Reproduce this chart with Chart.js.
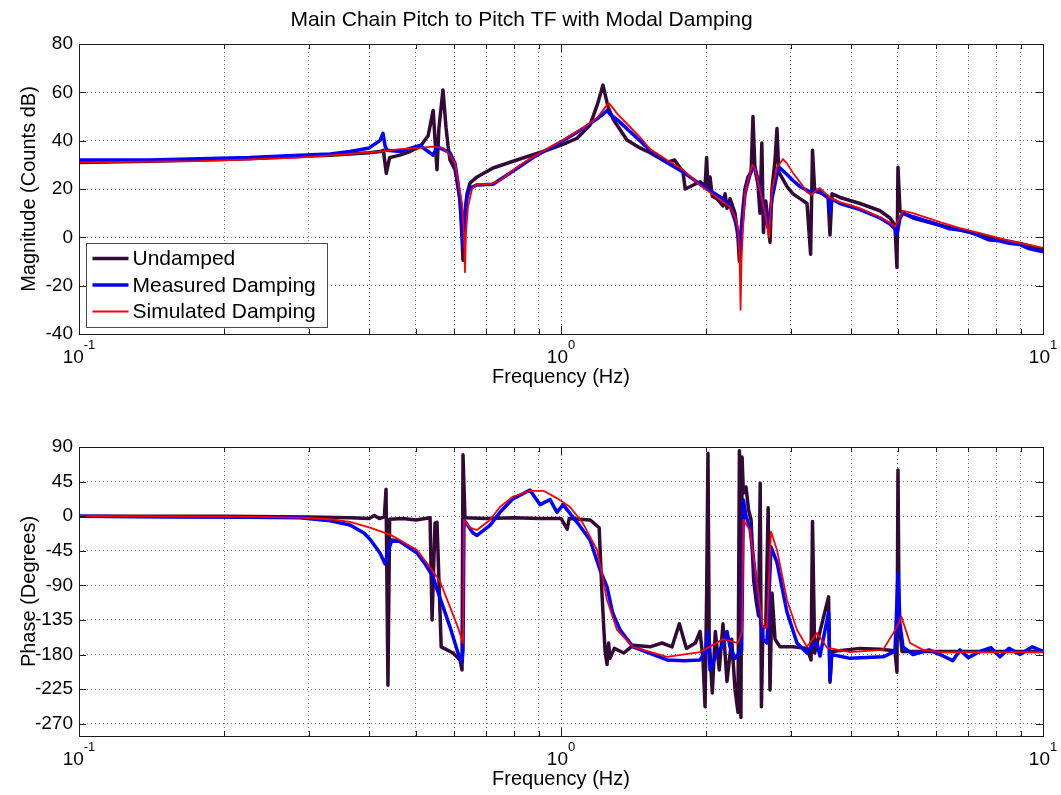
<!DOCTYPE html>
<html>
<head>
<meta charset="utf-8">
<script src="https://cdn.jsdelivr.net/npm/chart.js@4.4.1/dist/chart.umd.min.js"></script>
<style>
  html, body { margin: 0; padding: 0; background: #fff; }
  #wrap { position: relative; width: 1061px; height: 795px; }
  #mag { position: absolute; left: 0; top: 0; }
  #phase { position: absolute; left: 0; top: 398px; }
</style>
</head>
<body>
<div id="wrap">
  <canvas id="mag" width="1061" height="398"></canvas>
  <canvas id="phase" width="1061" height="397"></canvas>
</div>
<script>
// series names, in legend order
const seriesLabels = ['Undamped', 'Measured Damping', 'Simulated Damping'];

// axis ticks
const freqTicks = [0.1, 0.2, 0.3, 0.4, 0.5, 0.6, 0.7, 0.8, 0.9, 1, 2, 3, 4, 5, 6, 7, 8, 9, 10];
const decadeTicks = [0.1, 1, 10];
const decadeExponents = ['-1', '0', '1'];
const magTicks = [-40, -20, 0, 20, 40, 60, 80];
const phaseTicks = [-270, -225, -180, -135, -90, -45, 0, 45, 90];

// magnitude, [Hz, dB]
const magUndamped = [[0.1,31],[0.14,31.5],[0.178,32],[0.226,32.5],[0.287,33.5],[0.332,34],[0.365,34.5],[0.40,35],[0.421,35.5],[0.428,36],[0.434,26.5],[0.441,33],[0.463,34],[0.486,35.5],[0.51,37.5],[0.53,42],[0.543,52.5],[0.548,40],[0.553,28],[0.558,45],[0.569,61],[0.5773,45.5],[0.5829,38],[0.5884,32],[0.6027,28],[0.6172,15.5],[0.6232,0],[0.6262,-9.5],[0.6292,7],[0.6383,18],[0.6475,22.5],[0.6695,25],[0.7227,28.7],[0.81,32],[0.949,36.5],[1.01,38.5],[1.08,41],[1.149,46.5],[1.19,55],[1.222,63],[1.252,54],[1.282,49],[1.37,40.3],[1.458,37],[1.53,35],[1.659,31],[1.72,32],[1.791,27],[1.81,20],[1.943,23],[1.99,21],[2.005,33],[2.018,20],[2.038,25],[2.06,17],[2.107,16],[2.168,13],[2.19,18],[2.21,12],[2.242,16],[2.296,10],[2.329,0],[2.345,-10],[2.362,2],[2.385,12],[2.408,20],[2.443,25],[2.48,27],[2.502,50],[2.526,28],[2.562,22],[2.587,10],[2.61,39],[2.63,2],[2.66,15],[2.714,-2],[2.74,20],[2.78,32],[2.806,45],[2.83,27],[2.888,24],[2.944,21],[3.029,18],[3.133,16],[3.239,14],[3.295,-7],[3.325,36],[3.36,19],[3.446,18.5],[3.58,17],[3.615,1],[3.65,18],[3.792,16.5],[4.172,14],[4.589,11],[4.814,8],[4.93,5],[4.978,-12.5],[5.002,29],[5.05,11],[5.123,10],[5.374,8],[6.112,5],[6.726,3],[7.401,1],[8.143,-1],[8.96,-2.5],[10,-5]];
const magMeasured = [[0.1,32],[0.14,32],[0.178,32.5],[0.226,33],[0.287,34],[0.332,34.5],[0.365,35.5],[0.40,37],[0.421,40],[0.4273,43],[0.4314,38],[0.4355,36],[0.4634,35.5],[0.51,38],[0.5426,34],[0.5531,37.5],[0.5884,35],[0.6027,30.7],[0.6114,22.5],[0.6172,15.5],[0.6232,4.3],[0.6262,-4],[0.6321,8],[0.6383,16.7],[0.6475,20.4],[0.6695,21.7],[0.7227,22],[0.81,28.5],[0.875,33],[0.949,37],[1.01,40],[1.111,45],[1.188,49],[1.222,51],[1.246,52.5],[1.264,51],[1.31,48.5],[1.37,45],[1.458,40],[1.53,36],[1.659,31],[1.791,27],[1.943,22],[2.107,17.5],[2.168,16],[2.242,13],[2.296,7],[2.329,2],[2.352,-5],[2.375,5],[2.408,18],[2.466,26],[2.502,29.5],[2.526,29],[2.587,20],[2.65,10],[2.69,4],[2.74,16],[2.806,26],[2.847,28.7],[2.944,26],[3.029,23.5],[3.133,21],[3.302,18.5],[3.397,19.5],[3.446,19],[3.59,16],[3.615,10],[3.64,16],[3.792,14],[4.172,11.5],[4.589,8],[4.814,5.5],[4.93,3.5],[4.978,1],[5.05,8],[5.123,10],[5.374,8.5],[6.112,5],[6.4,3.5],[6.726,3],[7.0,2.5],[7.401,0.5],[7.7,-1],[8.143,-1.5],[8.5,-2.5],[8.96,-3],[9.3,-4.5],[10,-6]];
const magSimulated = [[0.1,31],[0.178,31.5],[0.287,33],[0.365,34.5],[0.42,35.5],[0.4634,36.5],[0.51,37],[0.5426,37.5],[0.5691,37],[0.5884,34],[0.6027,30.7],[0.6114,23.7],[0.6232,14],[0.6292,1.8],[0.6321,-14.4],[0.6352,2],[0.6413,12.6],[0.6537,20],[0.6695,22],[0.7124,22],[0.7471,23.5],[0.81,29],[0.875,33.3],[0.949,37.4],[1.01,40.3],[1.111,45.2],[1.188,49.4],[1.246,54.8],[1.258,55.5],[1.276,54],[1.31,51],[1.37,47],[1.458,41.5],[1.53,36.5],[1.659,32],[1.791,28],[1.943,21.5],[2.107,16.5],[2.168,14.6],[2.242,12.6],[2.296,8.4],[2.329,4],[2.348,-10],[2.358,-30],[2.368,-10],[2.385,3],[2.408,18],[2.466,26.6],[2.495,30],[2.526,28.5],[2.587,19.6],[2.65,10],[2.701,0],[2.74,19.6],[2.806,29],[2.888,32.4],[2.944,30.6],[3.029,26.6],[3.133,22.8],[3.239,18.7],[3.302,17.5],[3.397,19.6],[3.446,20.4],[3.615,16.3],[3.792,14.6],[4.172,12],[4.589,8.4],[4.814,6],[4.93,4.3],[5.05,8.4],[5.123,11],[5.374,10],[6.112,6.3],[6.726,3.8],[7.401,1.7],[8.143,-0.4],[8.96,-2.4],[10,-4.4]];

// phase, [Hz, degrees]
const phaseUndamped = [[0.1,0],[0.2,0],[0.3,-1],[0.365,-2],[0.40,-3],[0.41,1],[0.42,-3],[0.43,-1],[0.4335,35],[0.4375,-220],[0.441,-4],[0.47,-3],[0.50,-5],[0.535,-2],[0.5401,-135],[0.5478,-9],[0.553,-8],[0.5642,-170],[0.5969,-178],[0.6172,-187],[0.6232,-200],[0.6262,80],[0.6321,-2],[0.70,-3],[0.80,-2],[0.90,-3],[1.0,-3],[1.03,-17],[1.04,-3],[1.15,-5],[1.2,-15],[1.216,-100],[1.234,-175],[1.246,-193],[1.255,-165],[1.264,-185],[1.29,-172],[1.35,-178],[1.41,-168],[1.53,-170],[1.62,-165],[1.70,-170],[1.76,-140],[1.82,-172],[1.9,-165],[1.943,-150],[1.97,-185],[1.99,-248],[2.005,-105],[2.018,82],[2.03,-160],[2.06,-230],[2.09,-150],[2.13,-200],[2.168,-140],[2.21,-215],[2.26,-160],[2.296,-225],[2.329,-255],[2.345,85],[2.362,-262],[2.375,77],[2.39,30],[2.42,38],[2.45,8],[2.48,-5],[2.51,-83],[2.54,-110],[2.57,-130],[2.59,43],[2.605,-248],[2.624,-144],[2.66,-144],[2.69,11],[2.714,-226],[2.74,-100],[2.78,-160],[2.847,-170],[3.029,-170],[3.239,-172],[3.302,-187],[3.325,-7],[3.36,-178],[3.59,-105],[3.615,-216],[3.65,-176],[4.172,-172],[4.589,-173],[4.93,-175],[4.978,-203],[5.002,60],[5.03,-140],[5.1,-176],[6.112,-176],[10,-176]];
const phaseMeasured = [[0.1,0],[0.15,-1],[0.226,-1.5],[0.287,-2],[0.332,-6],[0.365,-11.5],[0.39,-22],[0.4015,-30],[0.4212,-48],[0.4314,-62],[0.4419,-38],[0.4461,-31],[0.4634,-33],[0.5027,-48],[0.5224,-62],[0.5426,-79],[0.5531,-95],[0.5884,-144],[0.6114,-178],[0.6232,-190],[0.6262,-175],[0.6292,-5],[0.6568,-22],[0.6695,-25],[0.712,-12],[0.747,5],[0.793,22],[0.862,34],[0.905,15],[0.949,21.5],[0.981,5],[1.01,15],[1.08,-8],[1.149,-31],[1.205,-70],[1.246,-92],[1.28,-126],[1.326,-148],[1.41,-170],[1.66,-187],[1.8,-188],[1.943,-187],[2.0,-175],[2.018,-150],[2.038,-200],[2.107,-178],[2.168,-168],[2.21,-150],[2.242,-170],[2.296,-185],[2.329,-180],[2.37,-175],[2.39,21],[2.42,0],[2.466,-15],[2.55,-95],[2.624,-160],[2.675,-165],[2.727,-40],[2.806,-60],[2.944,-125],[3.088,-165],[3.239,-178],[3.302,-170],[3.397,-165],[3.446,-182],[3.59,-125],[3.615,-213],[3.64,-180],[3.978,-185],[4.656,-183],[4.93,-176],[4.978,-110],[5.002,-74],[5.05,-140],[5.123,-170],[5.374,-180],[5.8,-174],[6.112,-180],[6.5,-188],[6.726,-174],[7.0,-184],[7.401,-176],[7.8,-171],[8.143,-183],[8.5,-172],[8.96,-180],[9.5,-170],[10,-176]];
const phaseSimulated = [[0.1,0],[0.226,-0.5],[0.287,-2],[0.332,-4],[0.365,-7.5],[0.4015,-15],[0.4419,-24],[0.5027,-44],[0.5401,-70],[0.561,-85],[0.5884,-118],[0.6114,-145],[0.6262,-165],[0.6292,-5],[0.6475,-15],[0.6695,-18],[0.712,-5],[0.747,12],[0.793,25],[0.862,33],[0.92,33],[0.98,23.5],[1.044,12],[1.11,-9],[1.188,-44],[1.246,-109],[1.307,-148],[1.41,-170],[1.66,-183],[1.943,-177],[2.168,-160],[2.329,-165],[2.375,-150],[2.39,-5],[2.466,-18],[2.55,-87],[2.624,-144],[2.675,-145],[2.727,-20],[2.806,-44],[2.944,-109],[3.088,-148],[3.239,-170],[3.397,-152],[3.563,-171],[3.978,-177],[4.656,-174],[4.978,-144],[5.085,-131],[5.299,-165],[5.636,-174],[6.112,-177],[10,-177]];

const FONT = "'Liberation Sans', Arial, Helvetica, sans-serif";
Chart.defaults.font.family = FONT;
Chart.defaults.color = '#000';

const styles = [
  { borderColor: '#330a36', borderWidth: 3.5, order: 3 },
  { borderColor: '#0000ff', borderWidth: 3.5, order: 2 },
  { borderColor: '#ff0000', borderWidth: 1.8, order: 1 }
];

function toPoints(pairs) {
  return pairs.map(p => ({ x: p[0], y: p[1] }));
}

function datasets(seriesList) {
  return seriesList.map((s, i) => Object.assign({
    label: seriesLabels[i],
    data: toPoints(s),
    pointRadius: 0,
    tension: 0,
    fill: false,
    borderJoinStyle: 'round'
  }, styles[i]));
}

// MATLAB style box, inward ticks, 10^n labels and the boxed legend
const matlabFrame = {
  id: 'matlabFrame',
  afterDraw(chart, args, opts) {
    const { ctx, chartArea: a, scales: { x, y } } = chart;
    ctx.save();
    ctx.strokeStyle = '#1a1a1a';
    ctx.lineWidth = 1;
    ctx.beginPath();
    x.ticks.forEach(t => {
      const px = Math.round(x.getPixelForValue(t.value)) + 0.5;
      const len = decadeTicks.includes(t.value) ? 8 : 5;
      ctx.moveTo(px, a.bottom); ctx.lineTo(px, a.bottom - len);
      ctx.moveTo(px, a.top); ctx.lineTo(px, a.top + len);
    });
    y.ticks.forEach(t => {
      const py = Math.round(y.getPixelForValue(t.value)) + 0.5;
      ctx.moveTo(a.left, py); ctx.lineTo(a.left + 7, py);
      ctx.moveTo(a.right, py); ctx.lineTo(a.right - 7, py);
    });
    ctx.stroke();
    ctx.strokeRect(Math.round(a.left) + 0.5, Math.round(a.top) + 0.5,
      Math.round(a.right - a.left), Math.round(a.bottom - a.top));

    ctx.fillStyle = '#000';
    ctx.textAlign = 'left';
    ctx.textBaseline = 'alphabetic';
    decadeTicks.forEach((v, i) => {
      const px = x.getPixelForValue(v);
      ctx.font = '19px ' + FONT;
      const wb = ctx.measureText('10').width;
      ctx.font = '13px ' + FONT;
      const we = ctx.measureText(decadeExponents[i]).width;
      const x0 = px - (wb + we) / 2;
      ctx.font = '19px ' + FONT;
      ctx.fillText('10', x0, a.bottom + 29);
      ctx.font = '13px ' + FONT;
      ctx.fillText(decadeExponents[i], x0 + wb, a.bottom + 15);
    });

    if (opts && opts.legend) {
      const lx = Math.round(a.left) + 7.5, ly = Math.round(a.bottom) - 90.5;
      ctx.fillStyle = '#fff';
      ctx.fillRect(lx, ly, 241, 84);
      ctx.strokeStyle = '#4a4a4a';
      ctx.lineWidth = 1;
      ctx.strokeRect(lx, ly, 241, 84);
      chart.data.datasets.forEach((ds, i) => {
        const ry = ly + 15 + i * 26.5;
        ctx.strokeStyle = ds.borderColor;
        ctx.lineWidth = ds.borderWidth;
        ctx.beginPath();
        ctx.moveTo(lx + 6, ry); ctx.lineTo(lx + 42, ry);
        ctx.stroke();
        ctx.fillStyle = '#000';
        ctx.font = '21px ' + FONT;
        ctx.textBaseline = 'middle';
        ctx.fillText(ds.label, lx + 46, ry + 1);
      });
    }
    ctx.restore();
  }
};

function makeOptions(cfg) {
  return {
    responsive: false,
    animation: false,
    layout: { padding: { top: cfg.padTop, right: 18, left: 0, bottom: 0 } },
    plugins: {
      legend: { display: false },
      tooltip: { enabled: false },
      title: cfg.title ? {
        display: true, text: cfg.title, color: '#000',
        font: { size: 21, weight: 'normal' },
        padding: { top: 8, bottom: 10.8 }
      } : { display: false },
      matlabFrame: { legend: cfg.legend }
    },
    scales: {
      x: {
        type: 'logarithmic', min: 0.1, max: 10,
        afterBuildTicks: s => { s.ticks = freqTicks.map(v => ({ value: v })); },
        afterFit: s => { s.height = cfg.xHeight; },
        ticks: { display: false },
        grid: { color: 'rgba(0,0,0,0.5)', lineWidth: 1, drawTicks: false },
        border: { display: false, dash: [1, 3] },
        title: { display: true, text: 'Frequency (Hz)', color: '#000', font: { size: 20 }, padding: { top: 0, bottom: cfg.xTitlePad } }
      },
      y: {
        min: cfg.yMin, max: cfg.yMax,
        afterBuildTicks: s => { s.ticks = cfg.yTicks.map(v => ({ value: v })); },
        afterFit: s => { s.width = 79; },
        ticks: { font: { size: 19 }, color: '#000', padding: 6 },
        grid: { color: 'rgba(0,0,0,0.5)', lineWidth: 1, drawTicks: false },
        border: { display: false, dash: [1, 3] },
        title: { display: true, text: cfg.yTitle, color: '#000', font: { size: 20 }, padding: { top: 17, bottom: 0 } }
      }
    }
  };
}

new Chart(document.getElementById('mag'), {
  type: 'line',
  data: { datasets: datasets([magUndamped, magMeasured, magSimulated]) },
  options: makeOptions({
    title: 'Main Chain Pitch to Pitch TF with Modal Damping',
    padTop: 0, xHeight: 64, xTitlePad: 9, legend: true,
    yMin: -40, yMax: 80, yTicks: magTicks, yTitle: 'Magnitude (Counts dB)'
  }),
  plugins: [matlabFrame]
});

new Chart(document.getElementById('phase'), {
  type: 'line',
  data: { datasets: datasets([phaseUndamped, phaseMeasured, phaseSimulated]) },
  options: makeOptions({
    title: null,
    padTop: 49, xHeight: 59, xTitlePad: 4, legend: false,
    yMin: -286, yMax: 90, yTicks: phaseTicks, yTitle: 'Phase (Degrees)'
  }),
  plugins: [matlabFrame]
});
</script>
</body>
</html>
